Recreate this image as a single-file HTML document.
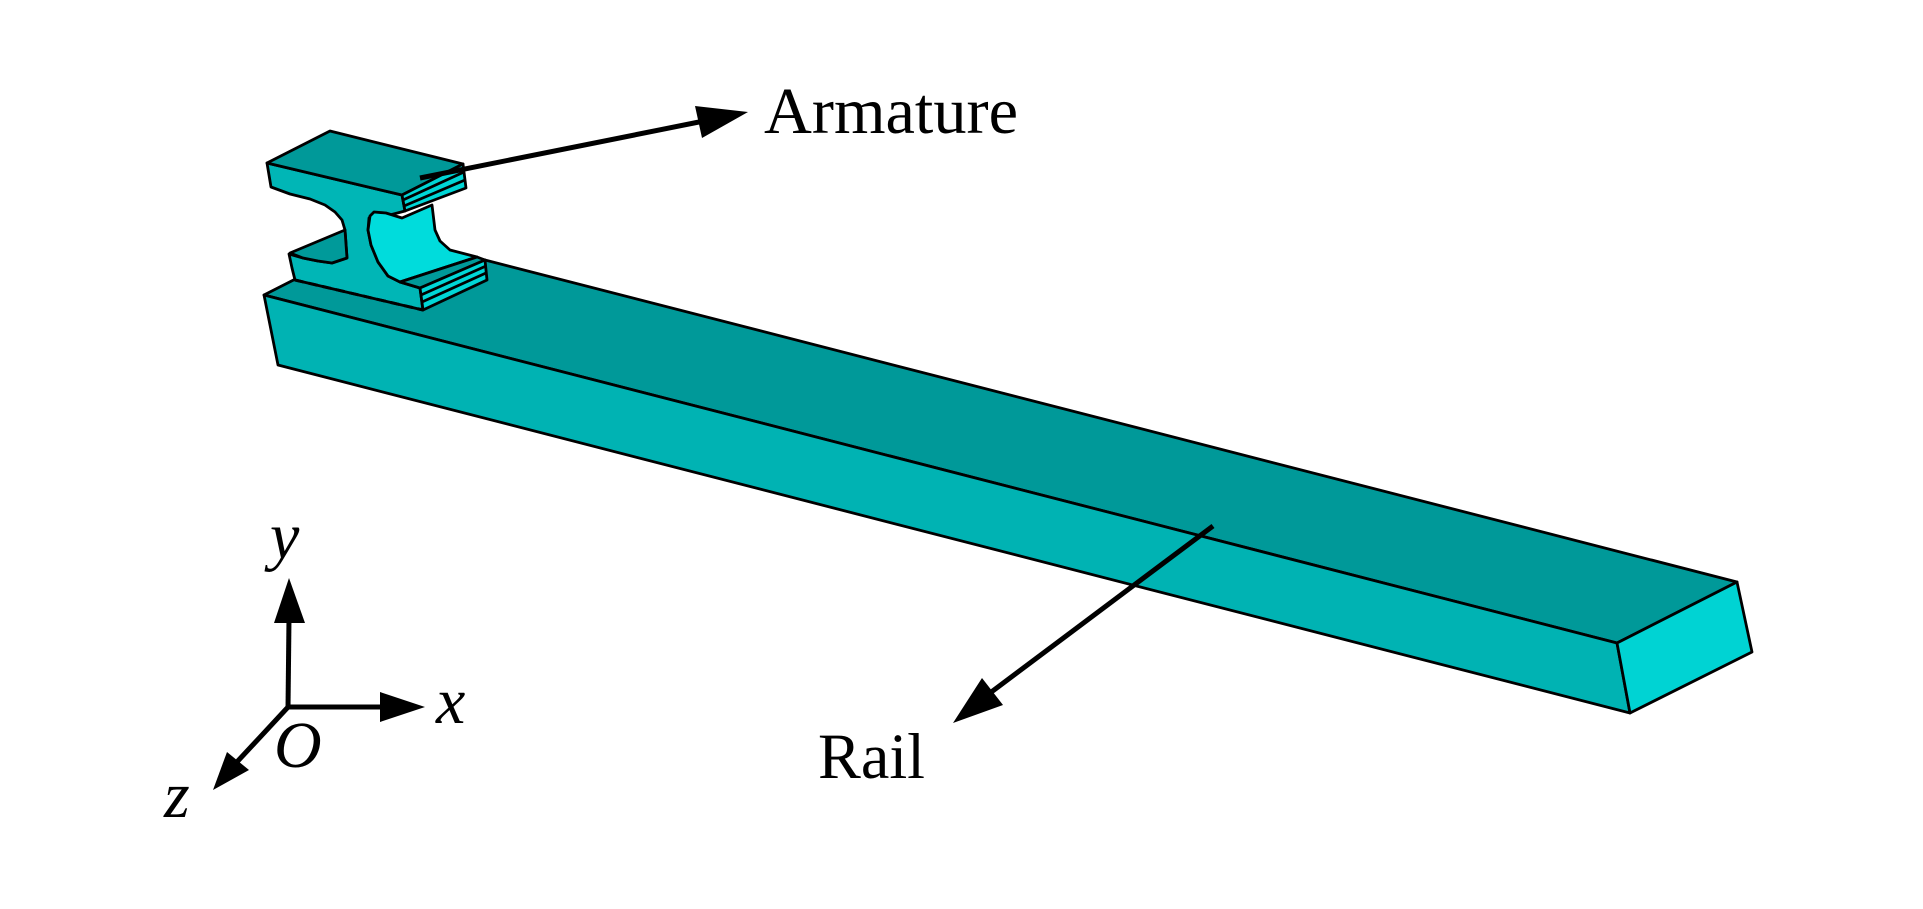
<!DOCTYPE html>
<html>
<head>
<meta charset="utf-8">
<style>
  html, body { margin:0; padding:0; background:#ffffff; }
  svg { display:block; }
  .lbl { font-family: "Liberation Serif", "Times New Roman", serif; fill:#000; }
  .ax { font-family: "Liberation Serif", "Times New Roman", serif; font-style: italic; fill:#000; }
</style>
</head>
<body>
<svg width="1923" height="909" viewBox="0 0 1923 909" xmlns="http://www.w3.org/2000/svg">
  <rect x="0" y="0" width="1923" height="909" fill="#ffffff"/>

  <!-- Rail -->
  <g stroke="#000" stroke-width="2.8" stroke-linejoin="round">
    <polygon points="264,295 384,234 1737,582 1617,643" fill="#009999"/>
    <polygon points="264,295 1617,643 1630,713 278,365" fill="#00b3b3"/>
    <polygon points="1617,643 1737,582 1752,652 1630,713" fill="#00d3d3"/>
  </g>

  <!-- Armature -->
  <g stroke="#000" stroke-width="2.8" stroke-linejoin="round">
    <!-- front profile face -->
    <polygon fill="#00b6b6" points="267,163 402,195 405,211 386,216 373,214 369,218 368,230 371,245 378,262 388,276 400,282 420,288 423,310 295,280 292,268 289,254 303,258 318,261 332,263 347,258 345,230 342,220 335,212 325,205 310,199 290,194 271,187"/>
    <!-- top plate top face -->
    <polygon fill="#009999" points="267,163 330,131 463,164 402,195"/>
    <!-- top plate end strip -->
    <polygon fill="#00d6d6" points="402,195 463,164 466,188 405,211"/>
    <line x1="403" y1="200" x2="464" y2="172"/>
    <line x1="404" y1="206" x2="465" y2="180"/>
    <!-- concave web surface -->
    <polygon fill="#00dcdc" points="370,216 374,212 386,213 402,218 432,205 435,230 440,241 450,250 477,257 400,282 388,276 378,262 371,245 368,230"/>
    <!-- lower left flange top face -->
    <polygon fill="#009a9a" points="290,253 345,230 347,258 332,263 318,261 303,258"/>
    <!-- lower right flange top face -->
    <polygon fill="#009a9a" points="400,282 420,288 485,260 477,257"/>
    <!-- lower right end strip -->
    <polygon fill="#00d6d6" points="420,288 485,260 487,280 423,310"/>
    <line x1="421" y1="295" x2="486" y2="266"/>
    <line x1="422" y1="302" x2="486" y2="273"/>
  </g>
  <!-- dashed bottom edge of armature -->
  <line x1="295" y1="280" x2="423" y2="310" stroke="#000" stroke-width="3" stroke-dasharray="9,5"/>

  <!-- Armature arrow -->
  <line x1="420" y1="178" x2="704" y2="121" stroke="#000" stroke-width="5"/>
  <polygon points="748,112 695,106 702,138" fill="#000"/>
  <text class="lbl" x="764" y="133" font-size="66" textLength="254" lengthAdjust="spacingAndGlyphs">Armature</text>

  <!-- Rail arrow -->
  <line x1="1213" y1="526" x2="990" y2="693" stroke="#000" stroke-width="5"/>
  <polygon points="953,723 982,678 1003,705" fill="#000"/>
  <text class="lbl" x="818" y="778" font-size="65" textLength="107" lengthAdjust="spacingAndGlyphs">Rail</text>

  <!-- Axes -->
  <line x1="288" y1="709" x2="289" y2="618" stroke="#000" stroke-width="5"/>
  <polygon points="289,578 274,623 305,623" fill="#000"/>
  <line x1="286" y1="707" x2="384" y2="707" stroke="#000" stroke-width="5"/>
  <polygon points="425,707 380,692 380,722" fill="#000"/>
  <line x1="289" y1="706" x2="236" y2="763" stroke="#000" stroke-width="5"/>
  <polygon points="213,790 227,752 249,770" fill="#000"/>

  <text class="ax" x="270" y="558" font-size="66">y</text>
  <text class="ax" x="436" y="723" font-size="66">x</text>
  <text class="ax" x="274" y="767" font-size="66">O</text>
  <text class="ax" x="164" y="817" font-size="66">z</text>
</svg>
</body>
</html>
